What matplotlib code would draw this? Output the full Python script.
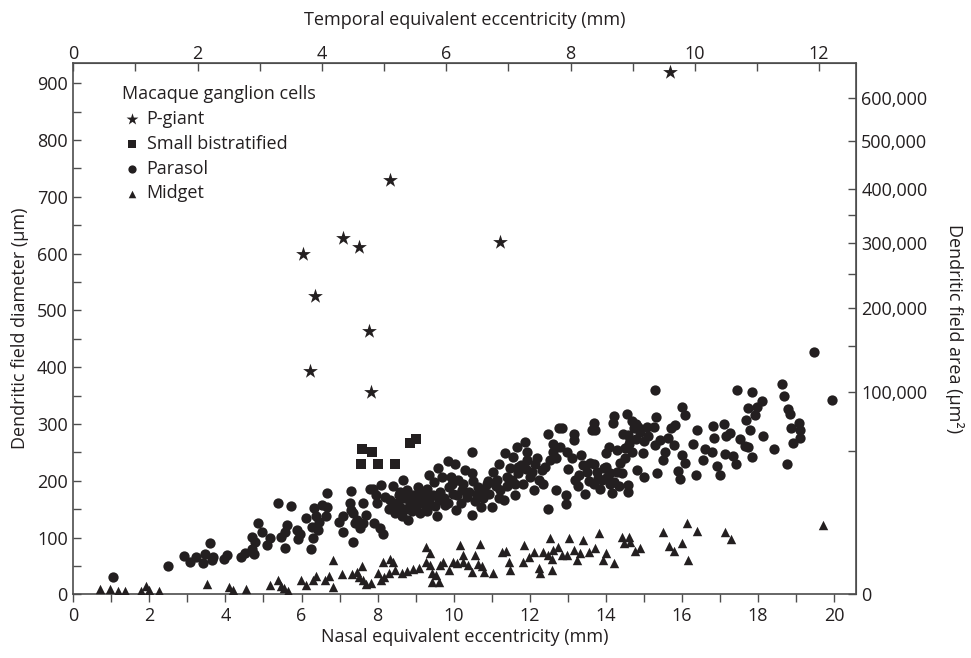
import numpy as np
import matplotlib
matplotlib.use("Agg")
import matplotlib.pyplot as plt
from matplotlib.ticker import MultipleLocator, FixedLocator, FuncFormatter, NullFormatter

plt.rcParams['font.family'] = ['Open Sans', 'DejaVu Sans']

# ---------------- data ----------------
pgiant_x = [6.05, 6.22, 6.36, 7.08, 7.50, 7.78, 7.83, 8.33, 11.22, 15.69]
pgiant_y = [599, 394, 526, 627, 611, 464, 357, 730, 620, 920]

bistrat_x = [7.60, 7.86, 7.57, 8.02, 8.47, 8.85, 9.00]
bistrat_y = [255, 250, 229, 229, 229, 266, 273]

parasol_x = [
    1.05, 2.48, 2.92, 3.07, 3.23, 3.40, 3.46, 3.60, 3.64, 3.68, 3.95, 4.03, 4.41, 4.51,
    4.69, 4.71, 4.75, 4.78, 4.85, 4.95, 5.08, 5.17, 5.39, 5.45, 5.57, 5.61, 5.57, 5.72,
    5.87, 5.92, 5.96, 6.12, 6.24, 6.29, 6.27, 6.33, 6.38, 6.44, 6.47, 6.53, 6.65, 6.66,
    6.68, 6.99, 7.08, 7.10, 7.29, 7.27, 7.29, 7.35, 7.36, 7.40, 7.45, 7.54, 7.61, 7.62,
    7.70, 7.80,
    7.87, 7.91, 7.96, 7.98, 8.07, 8.08, 8.15, 8.20, 8.33, 8.40, 8.42, 8.46, 8.55, 8.59,
    8.63, 8.68, 8.70, 8.77, 8.81, 8.84, 8.90, 8.94, 9.01, 9.05, 9.07, 9.12, 9.20, 9.24,
    9.29, 9.36, 9.38, 9.48, 9.55, 9.60, 9.62, 9.70, 9.77, 9.86, 9.88, 9.92, 9.99, 10.04,
    10.06, 10.12, 10.21, 10.30, 10.34, 10.47, 10.47, 10.49, 10.60, 10.65, 10.71, 10.78,
    10.87, 10.94, 11.00, 11.04, 11.13, 11.20, 11.23, 11.31, 11.35, 11.40, 11.48, 11.53,
    11.55, 11.62, 11.66, 11.70, 11.77, 11.83, 11.88, 11.92, 11.94, 12.00, 12.10, 12.14,
    12.23, 12.31, 12.36, 12.49, 12.49, 12.53, 12.62, 12.69, 12.78, 12.80,
    8.30, 8.50, 8.60, 8.75, 8.85, 8.95, 9.10, 9.15, 9.30, 9.35, 9.45, 9.50, 9.65, 9.75,
    9.85, 9.95, 10.10, 10.20, 10.25, 10.40, 10.50, 10.55, 10.80, 10.90, 11.10, 11.20,
    11.40, 11.60, 11.70, 11.90, 12.05, 12.20, 12.40, 12.60, 12.70,
    13.00, 13.10, 13.30, 13.50, 13.55, 13.70, 13.80, 13.85, 14.00, 14.10, 14.30, 14.35,
    14.50, 14.60, 14.70, 14.80, 14.90, 15.00,
    19.48, 19.94, 18.63, 18.69, 18.78, 18.85, 18.86, 18.92, 18.76, 19.07, 19.11, 19.11,
    18.43, 18.10, 18.13, 17.97, 17.84, 17.92, 17.75, 17.69, 17.78, 17.46, 17.53, 17.66,
    17.75, 17.84, 17.27, 17.17, 17.11, 17.14, 17.34, 17.43, 16.83, 16.85, 16.92, 17.00,
    16.79, 16.61, 16.55, 16.38, 16.39, 16.30, 16.09, 16.00, 16.09, 16.00, 15.89, 15.94,
    15.82, 15.72, 15.64, 15.80, 15.56, 15.43, 15.51, 15.34, 15.28, 15.32, 15.26, 15.28,
    15.12, 15.08, 14.97, 15.01, 14.81, 14.79, 14.85, 14.73, 14.64, 14.59, 14.55, 14.68,
    14.59, 14.59, 14.50, 14.46, 14.42, 14.37, 14.29, 14.20, 14.22, 14.09, 14.00, 14.17,
    14.21, 14.12, 14.03, 13.94, 13.90, 13.77, 13.71, 13.63, 13.68, 13.68, 13.59, 13.45,
    13.41, 13.36, 13.28, 13.19, 13.15, 13.15, 12.97, 12.96, 12.96, 12.84,
]
parasol_y = [
    30, 49, 68, 57, 66, 55, 71, 91, 60, 66, 62, 69, 66, 72,
    101, 79, 71, 92, 126, 109, 87, 99, 160, 101, 81, 122, 109, 155,
    113, 97, 107, 134, 79, 100, 119, 152, 137, 113, 128, 157, 137, 178,
    154, 128, 110, 137, 182, 160, 149, 92, 143, 125, 131, 116, 160, 125,
    140, 185,
    186, 125, 174, 160, 116, 192, 107, 171, 166, 190, 157, 143, 174, 154,
    137, 201, 169, 183, 131, 160, 146, 174, 154, 189, 166, 143, 177, 157,
    146, 210, 172, 198, 137, 222, 166, 207, 157, 234, 189, 207, 177, 230,
    149, 201, 183, 219, 172, 251, 140, 213, 177, 189, 154, 169,
    195, 177, 154, 216, 201, 230, 183, 166, 248, 207, 222, 201,
    242, 175, 260, 213, 228, 195, 269, 251, 236, 207, 183, 230,
    201, 219, 195, 283, 151, 236, 265, 183, 292, 260,
    150, 160, 180, 150, 175, 160, 180, 165, 185, 160, 175, 155, 180, 170,
    160, 195, 175, 160, 195, 180, 200, 165, 185, 200, 190, 170,
    190, 195, 225, 220, 215, 240, 225, 250, 240,
    220, 240, 210, 215, 200, 230, 205, 185, 225, 195, 215, 190,
    240, 265, 250, 300, 285, 270,
    427, 342, 371, 350, 326, 317, 293, 266, 229, 302, 289, 276,
    255, 340, 279, 330, 357, 316, 328, 307, 289, 360, 273, 261,
    260, 241, 284, 278, 299, 247, 244, 229, 296, 276, 226, 210,
    251, 255, 236, 210, 290, 264, 316, 329, 231, 245, 217, 203,
    298, 292, 275, 263, 251, 272, 236, 214, 360, 313, 295, 263,
    278, 295, 248, 207, 219, 274, 295, 292, 272, 281, 318, 306,
    181, 192, 257, 283, 213, 231, 254, 301, 314, 260, 248, 178,
    198, 213, 207, 222, 201, 216, 289, 289, 301, 195, 231, 177,
    228, 245, 190, 201, 283, 271, 251, 175, 159, 292,
]

midget_x = [
    0.70, 0.96, 1.18, 1.36, 1.78, 1.91, 2.00, 2.24, 3.52, 4.08, 4.19, 4.53, 5.16, 5.37,
    5.45, 5.55, 5.65, 5.99, 6.12, 6.29, 6.38, 6.62, 6.71,
    6.84, 6.82, 7.06, 7.32, 7.45, 7.52, 7.58, 7.62, 7.70, 7.82, 8.02, 8.08, 8.13, 8.16,
    8.30, 8.33, 8.40, 8.45, 8.63, 8.78, 8.93, 9.08, 9.28, 9.26, 9.38, 9.38, 9.42, 9.42,
    9.53, 9.62, 9.64, 9.73, 9.87, 9.97, 10.08, 10.17, 10.24, 10.25, 10.38, 10.47, 10.57,
    10.65, 10.69, 10.75, 10.79, 11.04, 11.26, 11.38, 11.46, 11.48, 11.81, 11.85, 11.99,
    12.10, 12.23, 12.27, 12.36, 12.49, 12.52, 12.58, 12.58, 12.62, 12.75,
    12.84, 12.97, 13.02, 13.15, 13.24, 13.32, 13.40, 13.57, 13.72, 13.81, 13.92, 14.01,
    14.22, 14.42, 14.48, 14.62, 14.64, 14.77, 14.89, 15.49, 15.67, 15.78, 16.00, 16.13,
    16.15, 16.39, 17.14, 17.30, 19.71,
]
midget_y = [
    10, 9, 6, 6, 6.5, 14, 8, 6.5, 18, 12, 8, 9, 16, 25,
    15, 11, 6.5, 25, 16, 25, 32, 26, 32,
    13, 61, 36, 36, 40, 31, 49, 25, 19, 20, 38, 26, 57, 31,
    37, 63, 57, 42, 37, 41, 44, 46, 84, 57, 72, 52, 37, 22,
    34, 22, 52, 57, 42, 57, 55, 87, 57, 69, 52, 40, 70,
    53, 88, 50, 40, 37, 75, 77, 57, 42, 57, 87, 66,
    75, 46, 38, 75, 69, 100, 63, 42, 78, 84,
    70, 70, 99, 78, 61, 72, 95, 75, 81, 108, 61, 72,
    55, 101, 90, 101, 92, 77, 81, 110, 85, 77, 90, 126,
    61, 112, 110, 97, 122,
]

series_labels = ["P-giant", "Small bistratified", "Parasol", "Midget"]
nasal_to_temporal = 0.612
area_ticks = [0, 100000, 200000, 300000, 400000, 500000, 600000]
area_minor = [50000, 150000, 250000, 350000]

# ---------------- figure ----------------
INK = '#231f20'
AXC = '#4d4d4d'
fig = plt.figure(figsize=(9.71, 6.58), dpi=100)
ax = fig.add_axes([0.0755, 0.0968, 0.8058, 0.8079])

ax.scatter(pgiant_x, pgiant_y, marker='*', s=125, color=INK, linewidths=0, label=series_labels[0], zorder=3)
ax.scatter(bistrat_x, bistrat_y, marker='s', s=44, color=INK, linewidths=0, label=series_labels[1], zorder=3)
ax.scatter(parasol_x, parasol_y, marker='o', s=55, color=INK, linewidths=0, label=series_labels[2], zorder=3)
ax.scatter(midget_x, midget_y, marker='^', s=46, color=INK, linewidths=0, label=series_labels[3], zorder=3)

ax.set_xlim(0, 20.57)
ax.set_ylim(0, 936)

for sp in ax.spines.values():
    sp.set_color(AXC)
    sp.set_linewidth(1.2)

ax.xaxis.set_major_locator(MultipleLocator(2))
ax.xaxis.set_minor_locator(MultipleLocator(1))
ax.yaxis.set_major_locator(MultipleLocator(100))
ax.yaxis.set_minor_locator(MultipleLocator(50))
ax.tick_params(axis='x', which='both', direction='out', length=6, width=1, color=AXC,
               labelsize=13, labelcolor=INK, pad=3)
ax.tick_params(axis='y', which='both', direction='in', length=6, width=1, color=AXC,
               labelsize=13, labelcolor=INK, pad=4)

ax.set_xlabel("Nasal equivalent eccentricity (mm)", fontsize=13, color=INK, labelpad=2)
ax.set_ylabel("Dendritic field diameter (\u00b5m)", fontsize=13, color=INK, labelpad=6)

# top axis: temporal eccentricity
top = ax.secondary_xaxis('top', functions=(lambda x: x * nasal_to_temporal,
                                           lambda t: t / nasal_to_temporal))
top.xaxis.set_major_locator(MultipleLocator(2))
top.xaxis.set_minor_locator(MultipleLocator(1))
top.tick_params(axis='x', which='both', direction='in', length=6, width=1, color=AXC,
                labelsize=13, labelcolor=INK, pad=0)
top.set_xlabel("Temporal equivalent eccentricity (mm)", fontsize=13, color=INK, labelpad=14)

# right axis: area = pi d^2 / 4
def d2a(d):
    d = np.asarray(d, dtype=float)
    return np.sign(d) * np.pi * d ** 2 / 4.0

def a2d(a):
    a = np.asarray(a, dtype=float)
    return np.sign(a) * 2.0 * np.sqrt(np.abs(a) / np.pi)

right = ax.secondary_yaxis('right', functions=(d2a, a2d))
right.yaxis.set_major_locator(FixedLocator(area_ticks))
right.yaxis.set_minor_locator(FixedLocator(area_minor))
right.yaxis.set_major_formatter(FuncFormatter(lambda v, p: f"{int(round(v)):,}"))
right.yaxis.set_minor_formatter(NullFormatter())
right.tick_params(axis='y', which='both', direction='in', length=6, width=1, color=AXC,
                  labelsize=13, labelcolor=INK, pad=4)
right.set_ylabel("Dendritic field area (\u00b5m\u00b2)", fontsize=13, color=INK,
                 rotation=-90, labelpad=26)
for sp in list(top.spines.values()) + list(right.spines.values()):
    sp.set_color(AXC)

leg = ax.legend(title="Macaque ganglion cells", loc='upper left', bbox_to_anchor=(0.051, 0.975),
                frameon=False, fontsize=13, title_fontsize=13, handletextpad=0.25,
                labelspacing=0.38, borderpad=0, handlelength=1.1, markerscale=0.8)
leg._legend_box.align = "left"
for t in leg.get_texts():
    t.set_color(INK)
leg.get_title().set_color(INK)

fig.savefig("out.png", dpi=100)
